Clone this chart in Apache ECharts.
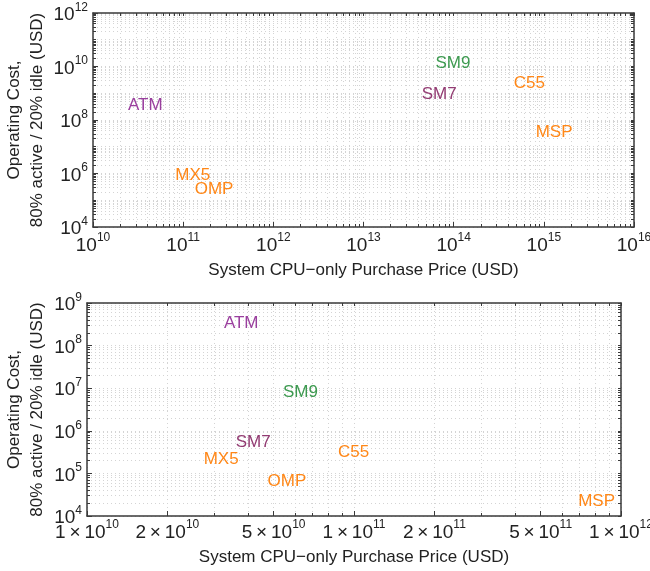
<!DOCTYPE html>
<html>
<head>
<meta charset="utf-8">
<script src="https://cdn.jsdelivr.net/npm/echarts@6/dist/echarts.min.js"></script>
<style>html,body{margin:0;padding:0;background:#fff}#c{width:650px;height:571px}</style>
</head>
<body>
<div id="c"></div>
<script>
// ---- data ----
const names = ['ATM', 'SM7', 'SM9', 'MX5', 'OMP', 'C55', 'MSP'];
const nameColors = ['#9a3f9e', '#923b72', '#3d9a50', '#ff8717', '#ff8717', '#ff8717', '#ff8717'];
const topPrice = [3.8e10, 6.9e13, 9.8e13, 1.28e11, 2.2e11, 6.9e14, 1.3e15];
const topCost  = [3.5e8, 8.9e8, 1.35e10, 8.7e5, 2.6e5, 2.4e9, 3.5e7];
const botPrice = [3.78e10, 4.19e10, 6.3e10, 3.18e10, 5.61e10, 9.97e10, 8.1e11];
const botCost  = [3.26e8, 5.3e5, 7.9e6, 2.13e5, 6.6e4, 3.2e5, 2.16e4];
// tick labels
const topXTicks = [1e10, 1e11, 1e12, 1e13, 1e14, 1e15, 1e16];
const topYTicks = [1e4, 1e6, 1e8, 1e10, 1e12];
const botXTicks = [1e10, 2e10, 5e10, 1e11, 2e11, 5e11, 1e12];
const botYTicks = [1e4, 1e5, 1e6, 1e7, 1e8, 1e9];
const xTitle = 'System CPU\u2212only Purchase Price (USD)';
const yTitle = 'Operating Cost,\n80% active / 20% idle (USD)';

function minorTicks(lo, hi) {
  const out = [];
  for (let e = lo; e < hi; e++) for (let m = 1; m < 10; m++) out.push(m * Math.pow(10, e));
  out.push(Math.pow(10, hi));
  return out;
}
function expOf(v) { return Math.floor(Math.log10(v) + 1e-9); }
function fmtPow(v) { return '{b|10}{s|' + expOf(v) + '}'; }
function fmtSci(v) {
  const e = expOf(v); const m = Math.round(v / Math.pow(10, e));
  return '{b|' + m + '\u2009\u00d7\u200910}{s|' + e + '}';
}
const FONT = '"Liberation Sans", Arial, sans-serif';
const rich = {
  b: { fontSize: 19, fontFamily: FONT, color: '#222', lineHeight: 23, verticalAlign: 'bottom' },
  s: { fontSize: 12, fontFamily: FONT, color: '#222', lineHeight: 23, verticalAlign: 'top' }
};
const lineCol = '#3a3a3a';
const gridCol = '#d4d4d4';

function axisSet(dim, gridIndex, min, max, ticks, minors, fmt, title, nameGap, margin) {
  const main = dim === 'x' ? 'bottom' : 'left';
  const opp = dim === 'x' ? 'top' : 'right';
  return [
    { type: 'log', logBase: 10, gridIndex, position: main, min, max,
      name: title, nameLocation: 'middle', nameGap, nameMoveOverlap: false,
      nameRotate: dim === 'y' ? 90 : 0,
      nameTextStyle: { fontSize: 17, fontFamily: FONT, color: '#222', lineHeight: 23 },
      axisLine: { show: true, lineStyle: { color: lineCol, width: 1.5 } },
      axisTick: { show: true, inside: true, length: 5, customValues: ticks, lineStyle: { color: lineCol } },
      axisLabel: { show: true, customValues: ticks, formatter: fmt, rich, margin, hideOverlap: false, showMinLabel: true, showMaxLabel: true },
      splitLine: { show: false }, minorTick: { show: false } },
    { type: 'log', logBase: 10, gridIndex, position: main, min, max,
      axisLine: { show: false },
      axisTick: { show: true, inside: true, length: 3, customValues: minors, lineStyle: { color: lineCol } },
      axisLabel: { show: false },
      splitLine: { show: true, lineStyle: { color: gridCol, type: [1, 3], width: 1 } } },
    { type: 'log', logBase: 10, gridIndex, position: opp, min, max,
      axisLine: { show: true, lineStyle: { color: lineCol, width: 1.5 } },
      axisTick: { show: true, inside: true, length: 3, customValues: minors, lineStyle: { color: lineCol } },
      axisLabel: { show: false }, splitLine: { show: false } }
  ];
}

const xAxes = [].concat(
  axisSet('x', 0, 1e10, 1e16, topXTicks, minorTicks(10, 16), fmtPow, xTitle, 32, 5),
  axisSet('x', 1, 1e10, 1e12, botXTicks, minorTicks(10, 12), fmtSci, xTitle, 30, 3)
);
const yAxes = [].concat(
  axisSet('y', 0, 1e4, 1e12, topYTicks, minorTicks(4, 12), fmtPow, yTitle, 44, 5),
  axisSet('y', 1, 1e4, 1e9, botYTicks, minorTicks(4, 9), fmtPow, yTitle, 38, 5)
);

function seriesData(px, py) {
  return names.map((n, i) => ({ name: n, value: [px[i], py[i]],
    label: { color: nameColors[i] } }));
}
const labelStyle = { show: true, position: 'inside', formatter: '{b}', fontSize: 17, fontFamily: FONT, opacity: 1 };

const chart = echarts.init(document.getElementById('c'), null, { renderer: 'canvas' });
chart.setOption({
  animation: false,
  backgroundColor: '#fff',
  grid: [
    { left: 93, top: 13, width: 541, height: 214, containLabel: false, outerBoundsMode: 'none' },
    { left: 87, top: 303, width: 534, height: 213, containLabel: false, outerBoundsMode: 'none' }
  ],
  xAxis: xAxes,
  yAxis: yAxes,
  series: [
    { type: 'scatter', xAxisIndex: 0, yAxisIndex: 0, symbolSize: 1, itemStyle: { color: 'rgba(0,0,0,0)', opacity: 1 },
      label: labelStyle, labelLayout: { hideOverlap: false }, z: 10, data: seriesData(topPrice, topCost) },
    { type: 'scatter', xAxisIndex: 3, yAxisIndex: 3, symbolSize: 1, itemStyle: { color: 'rgba(0,0,0,0)', opacity: 1 },
      label: labelStyle, labelLayout: { hideOverlap: false }, z: 10, data: seriesData(botPrice, botCost) }
  ]
});
</script>
</body>
</html>
